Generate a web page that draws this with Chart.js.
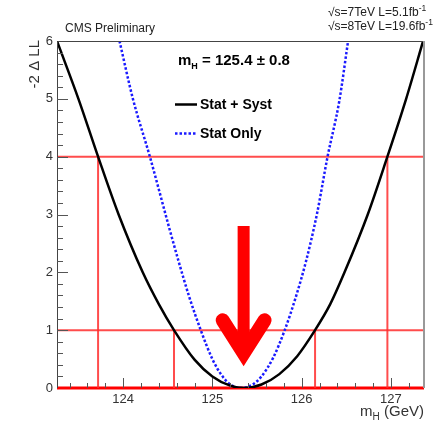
<!DOCTYPE html>
<html>
<head>
<meta charset="utf-8">
<script src="https://cdn.jsdelivr.net/npm/chart.js@4.4.1/dist/chart.umd.min.js"></script>
<style>
  html, body { margin: 0; padding: 0; background: #fff; }
  canvas { display: block; }
</style>
</head>
<body>
<canvas id="scanChart" width="440" height="423"></canvas>
<script>
// mass scan values (GeV, -2 dLL)
const statSystMass = [123.26, 123.50, 123.72, 123.95, 124.22, 124.40, 124.57, 124.80, 125.00, 125.20, 125.36,
  125.55, 125.75, 125.95, 126.15, 126.32, 126.48, 126.74, 126.96, 127.17, 127.36];
const statSystLL = [6.0, 5.0, 4.0, 3.0, 2.0, 1.45, 1.0, 0.49, 0.2, 0.04, 0.0,
  0.06, 0.24, 0.55, 1.0, 1.45, 2.0, 3.0, 4.0, 5.0, 6.0];

const statOnlyMass = [123.96, 124.11, 124.30, 124.52, 124.62, 124.74, 124.87, 125.00, 125.10, 125.20, 125.33,
  125.45, 125.55, 125.68, 125.81, 125.94, 126.05, 126.17, 126.29, 126.42, 126.52];
const statOnlyLL = [6.0, 5.0, 4.0, 2.75, 2.2, 1.58, 1.0, 0.5, 0.23, 0.06, 0.0,
  0.06, 0.2, 0.52, 1.0, 1.6, 2.2, 3.0, 4.0, 4.95, 6.0];

// 1 and 2 sigma levels and where the stat+syst curve crosses them
const sigmaLevels = [1, 4];
const sigmaLow = [124.57, 123.72];
const sigmaHigh = [126.15, 126.96];

// axes
const xMin = 123.26, xMax = 127.37;
const yMin = 0, yMax = 6;
const xTicks = [124, 125, 126, 127];
const yTicks = [0, 1, 2, 3, 4, 5, 6];

// best fit arrow (GeV, -2 dLL)
const arrowMass = 125.35;
const arrowTop = 2.8;
const arrowTip = 0.6;
const arrowWing = [125.115, 125.585];
const arrowWingY = 1.17;

const FONT = "'Liberation Sans', Arial, Helvetica, sans-serif";
const GUIDE = 'rgba(255, 45, 45, 0.85)';

function pairs(xs, ys) {
  return xs.map((v, i) => ({ x: v, y: ys[i] }));
}

const datasets = [
  {
    label: 'Stat + Syst',
    data: pairs(statSystMass, statSystLL),
    borderColor: '#000000',
    borderWidth: 2.5,
    cubicInterpolationMode: 'monotone',
    pointRadius: 0,
  },
  {
    label: 'Stat Only',
    data: pairs(statOnlyMass, statOnlyLL),
    borderColor: '#1a1aff',
    borderWidth: 2.5,
    borderDash: [2.5, 2],
    cubicInterpolationMode: 'monotone',
    pointRadius: 0,
  },
];

// horizontal guide lines at the sigma levels
sigmaLevels.forEach((lvl) => {
  datasets.push({
    data: [{ x: xMin, y: lvl }, { x: xMax, y: lvl }],
    borderColor: GUIDE,
    borderWidth: 2,
    pointRadius: 0,
  });
});
// vertical guide lines down to zero
sigmaLevels.forEach((lvl, i) => {
  [sigmaLow[i], sigmaHigh[i]].forEach((m) => {
    datasets.push({
      data: [{ x: m, y: 0 }, { x: m, y: lvl }],
      borderColor: GUIDE,
      borderWidth: 2,
      pointRadius: 0,
    });
  });
});
// red zero line on the axis
datasets.push({
  data: [{ x: xMin, y: 0 }, { x: xMax, y: 0 }],
  borderColor: '#ff0000',
  borderWidth: 3,
  pointRadius: 0,
  clip: 4,
});

// draws a string with a subscript / superscript piece, returns end x
function drawParts(ctx, parts, x, y) {
  parts.forEach((p) => {
    ctx.font = p.font;
    ctx.fillText(p.text, x, y + (p.dy || 0));
    x += ctx.measureText(p.text).width;
  });
  return x;
}
function partsWidth(ctx, parts) {
  let w = 0;
  parts.forEach((p) => { ctx.font = p.font; w += ctx.measureText(p.text).width; });
  return w;
}

const overlay = {
  id: 'overlay',
  afterDatasetsDraw(chart) {
    const { ctx, chartArea: a, scales } = chart;
    const xs = scales.x, ys = scales.y;
    ctx.save();

    // frame
    ctx.lineWidth = 1;
    ctx.strokeStyle = '#444';
    ctx.beginPath();
    ctx.moveTo(a.left + 0.5, a.bottom);
    ctx.lineTo(a.left + 0.5, a.top + 0.5);
    ctx.lineTo(a.right, a.top + 0.5);
    ctx.stroke();
    ctx.strokeStyle = '#999';
    ctx.lineWidth = 2;
    ctx.beginPath();
    ctx.moveTo(a.right, a.top);
    ctx.lineTo(a.right, a.bottom);
    ctx.stroke();

    // inner tick marks, minor every 0.2
    ctx.strokeStyle = '#555';
    ctx.lineWidth = 1;
    ctx.beginPath();
    for (let k = Math.ceil(xMin * 5); k <= Math.floor(xMax * 5); k++) {
      const px = Math.round(xs.getPixelForValue(k / 5)) + 0.5;
      const len = k % 5 === 0 ? 10 : 5;
      ctx.moveTo(px, a.bottom);
      ctx.lineTo(px, a.bottom - len);
    }
    for (let k = yMin * 5 + 1; k < yMax * 5; k++) {
      const py = Math.round(ys.getPixelForValue(k / 5)) + 0.5;
      const len = k % 5 === 0 ? 11 : 6;
      ctx.moveTo(a.left, py);
      ctx.lineTo(a.left + len, py);
    }
    ctx.stroke();

    // best fit arrow
    const ax = xs.getPixelForValue(arrowMass);
    const tipY = ys.getPixelForValue(arrowTip);
    ctx.strokeStyle = '#ff0000';
    ctx.lineWidth = 12;
    ctx.lineCap = 'butt';
    ctx.beginPath();
    ctx.moveTo(ax, ys.getPixelForValue(arrowTop));
    ctx.lineTo(ax, tipY - 4);
    ctx.stroke();
    ctx.lineWidth = 14;
    ctx.lineCap = 'round';
    ctx.lineJoin = 'miter';
    ctx.miterLimit = 10;
    ctx.beginPath();
    ctx.moveTo(xs.getPixelForValue(arrowWing[0]), ys.getPixelForValue(arrowWingY));
    ctx.lineTo(ax, tipY);
    ctx.lineTo(xs.getPixelForValue(arrowWing[1]), ys.getPixelForValue(arrowWingY));
    ctx.stroke();

    // texts
    ctx.textBaseline = 'alphabetic';
    ctx.textAlign = 'left';
    ctx.fillStyle = '#222';
    ctx.font = `12px ${FONT}`;
    ctx.fillText('CMS Preliminary', 65, 32);

    const sup = `8.5px ${FONT}`, reg = `12px ${FONT}`;
    drawParts(ctx, [{ text: '\u221As=7TeV L=5.1fb', font: reg }, { text: '-1', font: sup, dy: -5 }], 328, 16);
    drawParts(ctx, [{ text: '\u221As=8TeV L=19.6fb', font: reg }, { text: '-1', font: sup, dy: -5 }], 328, 30);

    ctx.fillStyle = '#000';
    drawParts(ctx, [
      { text: 'm', font: `bold 15px ${FONT}` },
      { text: 'H', font: `bold 9px ${FONT}`, dy: 4 },
      { text: ' = 125.4 \u00B1 0.8', font: `bold 15px ${FONT}` },
    ], 178, 65);

    // legend
    ctx.lineCap = 'butt';
    ctx.lineWidth = 2.5;
    ctx.strokeStyle = '#000';
    ctx.beginPath();
    ctx.moveTo(175, 104.5);
    ctx.lineTo(197, 104.5);
    ctx.stroke();
    ctx.strokeStyle = '#1a1aff';
    ctx.setLineDash([2.5, 2]);
    ctx.beginPath();
    ctx.moveTo(175, 133.5);
    ctx.lineTo(197, 133.5);
    ctx.stroke();
    ctx.setLineDash([]);
    ctx.font = `bold 14px ${FONT}`;
    ctx.fillText('Stat + Syst', 200, 109);
    ctx.fillText('Stat Only', 200, 138);

    // axis titles
    ctx.fillStyle = '#333';
    const xt = [
      { text: 'm', font: `15px ${FONT}` },
      { text: 'H', font: `10px ${FONT}`, dy: 4 },
      { text: ' (GeV)', font: `15px ${FONT}` },
    ];
    drawParts(ctx, xt, a.right - partsWidth(ctx, xt), 416);

    ctx.save();
    ctx.translate(39, a.top - 1);
    ctx.rotate(-Math.PI / 2);
    ctx.textAlign = 'right';
    ctx.font = `15px ${FONT}`;
    ctx.fillText('-2 \u0394 LL', 0, 0);
    ctx.restore();

    ctx.restore();
  },
};

new Chart(document.getElementById('scanChart'), {
  type: 'line',
  data: { datasets: datasets },
  options: {
    responsive: false,
    devicePixelRatio: 1,
    animation: false,
    layout: { padding: { top: 41, right: 16, left: 0, bottom: 0 } },
    plugins: { legend: { display: false }, tooltip: { enabled: false } },
    scales: {
      x: {
        type: 'linear',
        min: xMin,
        max: xMax,
        afterBuildTicks: (s) => { s.ticks = xTicks.map((v) => ({ value: v })); },
        afterFit: (s) => { s.height = 35; },
        grid: { display: false, drawTicks: false },
        border: { display: false },
        ticks: { color: '#333', padding: 4, font: { size: 13, family: FONT }, maxRotation: 0 },
      },
      y: {
        min: yMin,
        max: yMax,
        afterBuildTicks: (s) => { s.ticks = yTicks.map((v) => ({ value: v })); },
        afterFit: (s) => { s.width = 57; },
        grid: { display: false, drawTicks: false },
        border: { display: false },
        ticks: { color: '#333', padding: 4, font: { size: 13, family: FONT } },
      },
    },
  },
  plugins: [overlay],
});
</script>
</body>
</html>
